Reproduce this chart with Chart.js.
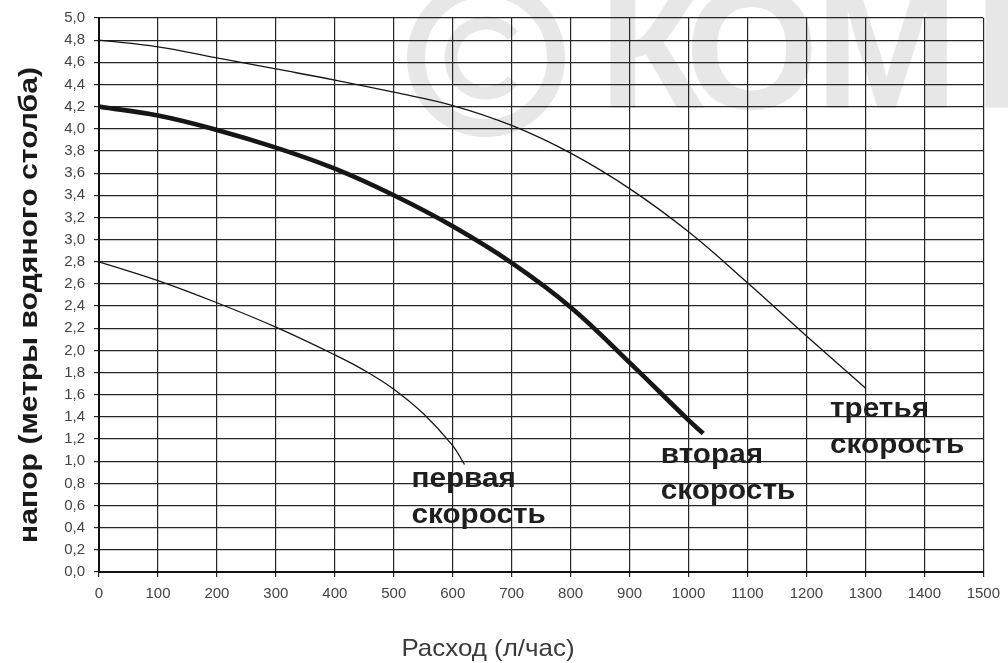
<!DOCTYPE html>
<html>
<head>
<meta charset="utf-8">
<script src="https://cdn.jsdelivr.net/npm/chart.js@4.4.1/dist/chart.umd.min.js"></script>
<style>
  html, body { margin: 0; padding: 0; background: #fff; }
  #wrap { width: 1008px; height: 663px; }
</style>
</head>
<body>
<div id="wrap"><canvas id="c" width="1008" height="663"></canvas></div>
<script>
// Pump head curves for the three speed settings
const flowSpeed1 = [0, 100, 200, 300, 400, 450, 500, 550, 600, 620];
const headSpeed1 = [2.80, 2.63, 2.43, 2.21, 1.96, 1.82, 1.65, 1.43, 1.14, 0.97];

const flowSpeed2 = [0, 100, 200, 300, 400, 500, 600, 700, 800, 900, 1000, 1025];
const headSpeed2 = [4.20, 4.12, 3.99, 3.83, 3.64, 3.40, 3.12, 2.79, 2.39, 1.89, 1.37, 1.25];

const flowSpeed3 = [0, 100, 200, 300, 400, 500, 600, 700, 800, 900, 1000, 1100, 1200, 1300];
const headSpeed3 = [4.80, 4.74, 4.64, 4.54, 4.44, 4.33, 4.21, 4.03, 3.78, 3.46, 3.07, 2.61, 2.13, 1.66];

const curveNames = [['первая', 'скорость'], ['вторая', 'скорость'], ['третья', 'скорость']];

const flowAxis = { min: 0, max: 1500, step: 100 };
const headAxis = { min: 0, max: 5, step: 0.2 };

const xTitle = 'Расход (л/час)';
const yTitle = 'напор (метры водяного столба)';

const FONT = '"Liberation Sans", Arial, sans-serif';

const toPoints = (xs, ys) => xs.map((x, i) => ({ x: x, y: ys[i] }));

// Where each curve's caption sits, in chart units (flow, head)
const captionAnchors = [
  { x: 530, y: 0.77 },
  { x: 953, y: 0.98 },
  { x: 1240, y: 1.40 }
];

const backdrop = {
  id: 'backdrop',
  beforeDraw(chart) {
    const c = chart.ctx;
    c.save();
    c.fillStyle = '#ffffff';
    c.fillRect(0, 0, chart.width, chart.height);
    // faint watermark behind the grid
    const wm = '#e7e7e7';
    c.strokeStyle = wm;
    c.lineWidth = 18;
    c.beginPath();
    c.arc(486, 58, 70, 0, Math.PI * 2);
    c.stroke();
    c.lineWidth = 13;
    c.beginPath();
    c.arc(486, 58, 35, Math.PI * 0.22, Math.PI * 1.78);
    c.stroke();
    c.fillStyle = wm;
    c.font = 'bold 172px ' + FONT;
    c.textBaseline = 'alphabetic';
    const letters = [['К', 610], ['О', 692], ['М', 826], ['F', 985]];
    letters.forEach(([ch, left]) => {
      const m = c.measureText(ch);
      c.fillText(ch, left + m.actualBoundingBoxLeft, 108);
    });
    c.restore();
  }
};

// draws text stretched horizontally by sx around its anchor
function stretchedText(c, text, cx, cy, sx) {
  c.save();
  c.translate(cx, cy);
  c.scale(sx, 1);
  c.fillText(text, 0, 0);
  c.restore();
}

const annotations = {
  id: 'annotations',
  afterDraw(chart) {
    const c = chart.ctx;
    const xs = chart.scales.x, ys = chart.scales.y;
    c.save();
    // curve captions
    c.fillStyle = '#1e1e1e';
    c.font = 'bold 27px ' + FONT;
    c.textAlign = 'left';
    c.textBaseline = 'alphabetic';
    curveNames.forEach((lines, i) => {
      const px = xs.getPixelForValue(captionAnchors[i].x);
      const py = ys.getPixelForValue(captionAnchors[i].y);
      lines.forEach((t, j) => stretchedText(c, t, px, py + j * 36, 1.1));
    });
    // axis titles
    c.textAlign = 'center';
    c.textBaseline = 'middle';
    c.fillStyle = '#3a3a3a';
    c.font = '24px ' + FONT;
    stretchedText(c, xTitle, 488, 649, 1.08);
    c.fillStyle = '#1a1a1a';
    c.font = 'bold 26px ' + FONT;
    c.save();
    c.translate(30, 305);
    c.rotate(-Math.PI / 2);
    stretchedText(c, yTitle, 0, 0, 1.16);
    c.restore();
    c.restore();
  }
};

const lineColor = '#161616';
const tickFont = { family: FONT, size: 15 };

new Chart(document.getElementById('c').getContext('2d'), {
  type: 'line',
  data: {
    datasets: [
      { label: curveNames[0].join(' '), data: toPoints(flowSpeed1, headSpeed1), borderColor: lineColor, borderWidth: 1.3, tension: 0.4, pointRadius: 0, fill: false },
      { label: curveNames[1].join(' '), data: toPoints(flowSpeed2, headSpeed2), borderColor: lineColor, borderWidth: 4.6, tension: 0.4, pointRadius: 0, fill: false },
      { label: curveNames[2].join(' '), data: toPoints(flowSpeed3, headSpeed3), borderColor: lineColor, borderWidth: 1.3, tension: 0.4, pointRadius: 0, fill: false }
    ]
  },
  options: {
    responsive: false,
    animation: false,
    layout: { padding: { top: 14, right: 21, left: 0, bottom: 0 } },
    plugins: { legend: { display: false }, tooltip: { enabled: false } },
    scales: {
      x: {
        type: 'linear',
        min: flowAxis.min, max: flowAxis.max,
        ticks: { stepSize: flowAxis.step, autoSkip: false, maxRotation: 0, color: '#444', font: tickFont, padding: 8,
          callback: v => String(v) },
        grid: { color: '#262626', lineWidth: 1.2, tickLength: 5, tickColor: '#262626' },
        border: { color: '#111', width: 2 },
        title: { display: false },
        afterFit(s) { s.height = 91; }
      },
      y: {
        type: 'linear',
        min: headAxis.min, max: headAxis.max,
        ticks: { stepSize: headAxis.step, autoSkip: false, color: '#444', font: tickFont, padding: 9,
          callback: v => Number(v).toFixed(1).replace('.', ',') },
        grid: { color: '#262626', lineWidth: 1.2, tickLength: 5, tickColor: '#262626' },
        border: { color: '#111', width: 2 },
        title: { display: false },
        afterFit(s) { s.width = 99; }
      }
    }
  },
  plugins: [backdrop, annotations]
});
</script>
</body>
</html>
